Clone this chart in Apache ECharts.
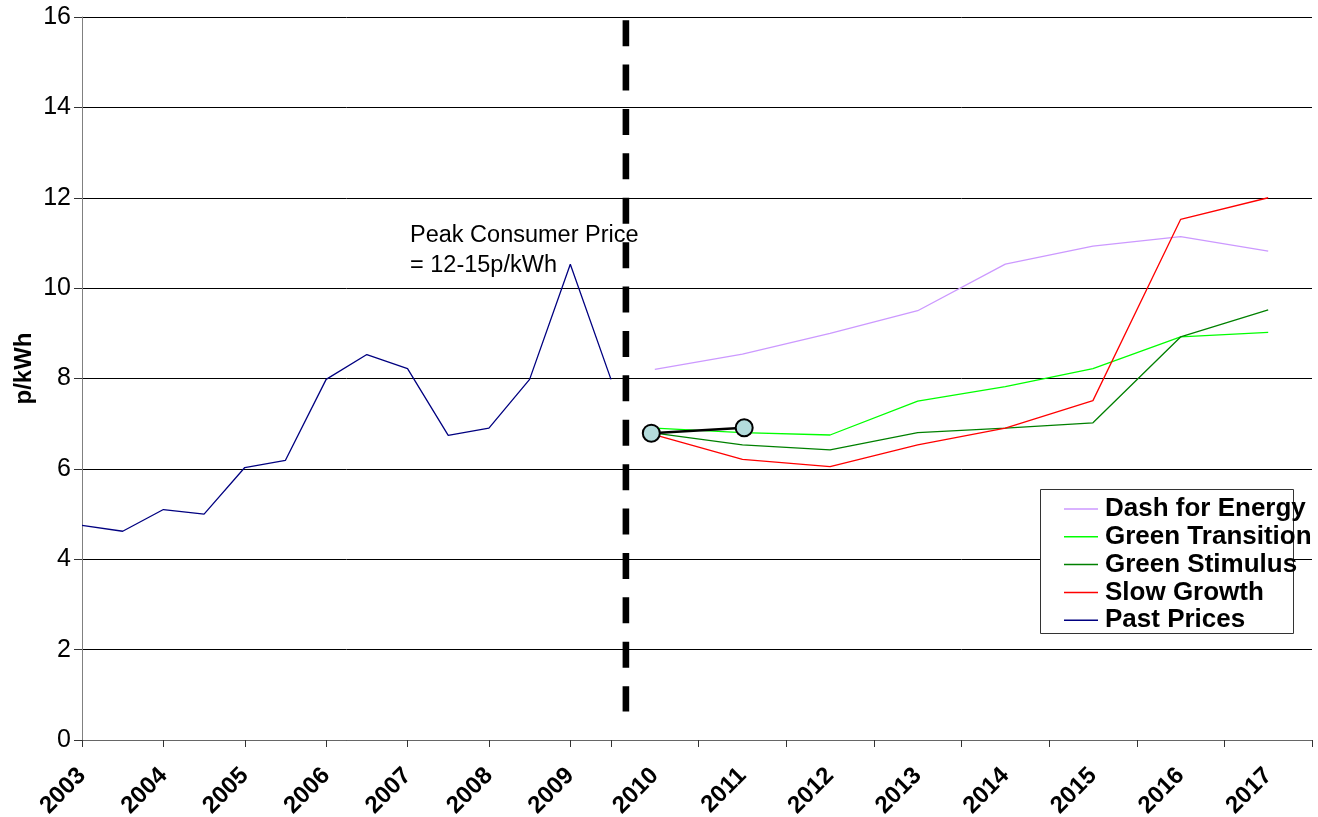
<!DOCTYPE html>
<html><head><meta charset="utf-8">
<script src="https://cdn.jsdelivr.net/npm/echarts@6/dist/echarts.min.js"></script>
<style>html,body{margin:0;padding:0;background:#fff}#c{width:1318px;height:817px}</style>
</head><body><div id="c"></div>
<script>
// ---- data ----
const pastCategories = ['2003','','2004','','2005','','2006','','2007','','2008','','2009',''];
const pastPrices = [4.75,4.62,5.1,5.0,6.03,6.19,7.98,8.53,8.22,6.74,6.9,7.98,10.53,7.98];
const scenarioYears = ['2010','2011','2012','2013','2014','2015','2016','2017'];
const dashForEnergy   = [8.2,8.54,9.0,9.5,10.53,10.93,11.14,10.82];
const greenTransition = [6.9,6.8,6.75,7.5,7.82,8.22,8.92,9.02];
const greenStimulus   = [6.79,6.53,6.42,6.8,6.9,7.02,8.92,9.52];
const slowGrowth      = [6.75,6.21,6.05,6.53,6.9,7.51,11.52,12.0];
const currentPoints   = [[-0.04,6.79],[1.02,6.91]];    // [scenario index, p/kWh]
const dividerLine     = [[-0.33,15.93],[-0.33,0.63]];  // vertical separator
const yMin = 0, yMax = 16, yStep = 2;
const annotationText = 'Peak Consumer Price\n= 12-15p/kWh';

const FONT = '"Liberation Sans", Arial, sans-serif';
const chart = echarts.init(document.getElementById('c'), null, {renderer:'canvas'});

const xLabel = {interval:0, rotate:45, align:'right', verticalAlign:'middle', margin:32,
  fontSize:24, fontWeight:'bold', fontFamily:FONT, color:'#000'};
const split = {show:true, lineStyle:{color:'#000', width:1}};

chart.setOption({
  animation:false,
  backgroundColor:'#fff',
  grid:[
    {left:82, right:707, top:17, bottom:77, outerBoundsMode:'none', containLabel:false},
    {left:611, right:6, top:17, bottom:77, outerBoundsMode:'none', containLabel:false}
  ],
  xAxis:[
    {type:'category', gridIndex:0, data:pastCategories, boundaryGap:false,
     axisLine:{show:true, lineStyle:{color:'#666'}},
     axisTick:{show:true, interval:1, length:7, lineStyle:{color:'#333'}},
     axisLabel:xLabel, splitLine:{show:false}},
    {type:'category', gridIndex:1, data:scenarioYears, boundaryGap:true,
     axisLine:{show:true, lineStyle:{color:'#666'}},
     axisTick:{show:true, interval:0, length:7, lineStyle:{color:'#333'}},
     axisLabel:xLabel, splitLine:{show:false}},
    {type:'value', gridIndex:1, min:-0.5, max:7.5, show:false}
  ],
  yAxis:[
    {type:'value', gridIndex:0, min:yMin, max:yMax, interval:yStep,
     name:'p/kWh', nameLocation:'middle', nameGap:46,
     nameTextStyle:{fontSize:24, fontWeight:'bold', fontFamily:FONT, color:'#000', padding:[0,0,0,20]},
     axisLine:{show:true, lineStyle:{color:'#808080'}},
     axisTick:{show:true, length:8, lineStyle:{color:'#333'}},
     axisLabel:{fontSize:25, fontFamily:FONT, color:'#000', margin:11, padding:[6,0,0,0]},
     splitLine:split},
    {type:'value', gridIndex:1, min:yMin, max:yMax, interval:yStep,
     axisLine:{show:false}, axisTick:{show:false}, axisLabel:{show:false},
     splitLine:split}
  ],
  legend:{
    orient:'vertical', left:1064, top:496, padding:0,
    icon:'rect', itemWidth:34, itemHeight:1.5, itemGap:1.8, z:10,
    textStyle:{fontSize:26, fontWeight:'bold', fontFamily:FONT, color:'#000', lineHeight:26, padding:[0,0,0,2]},
    data:['Dash for Energy','Green Transition','Green Stimulus','Slow Growth','Past Prices']
  },
  graphic:[
    {type:'rect', z:3, shape:{x:1040.5, y:489.5, width:253, height:144},
     style:{fill:'#fff', stroke:'#333', lineWidth:1}},
    {type:'text', z:10, left:410, top:221,
     style:{text:annotationText, font:'23.5px "Liberation Sans", Arial, sans-serif', fill:'#000', lineHeight:30}}
  ],
  series:[
    {name:'Past Prices', type:'line', xAxisIndex:0, yAxisIndex:0, data:pastPrices,
     symbol:'none', lineStyle:{color:'#000080', width:1.3}, itemStyle:{color:'#000080'}},
    {name:'Dash for Energy', type:'line', xAxisIndex:1, yAxisIndex:1, data:dashForEnergy,
     symbol:'none', lineStyle:{color:'#CC99FF', width:1.3}, itemStyle:{color:'#CC99FF'}},
    {name:'Green Transition', type:'line', xAxisIndex:1, yAxisIndex:1, data:greenTransition,
     symbol:'none', lineStyle:{color:'#00FF00', width:1.3}, itemStyle:{color:'#00FF00'}},
    {name:'Green Stimulus', type:'line', xAxisIndex:1, yAxisIndex:1, data:greenStimulus,
     symbol:'none', lineStyle:{color:'#008000', width:1.3}, itemStyle:{color:'#008000'}},
    {name:'Slow Growth', type:'line', xAxisIndex:1, yAxisIndex:1, data:slowGrowth,
     symbol:'none', lineStyle:{color:'#FF0000', width:1.3}, itemStyle:{color:'#FF0000'}},
    {name:'current', type:'line', xAxisIndex:2, yAxisIndex:1, data:currentPoints, z:6,
     symbol:'circle', symbolSize:17, showSymbol:true,
     lineStyle:{color:'#000', width:2.5},
     itemStyle:{color:'#B4DCDC', borderColor:'#000', borderWidth:2}},
    {name:'divider', type:'line', xAxisIndex:2, yAxisIndex:1, data:dividerLine, z:5,
     symbol:'none', lineStyle:{color:'#000', width:6.6, type:[26,18.4], cap:'butt'}}
  ]
});
</script></body></html>
